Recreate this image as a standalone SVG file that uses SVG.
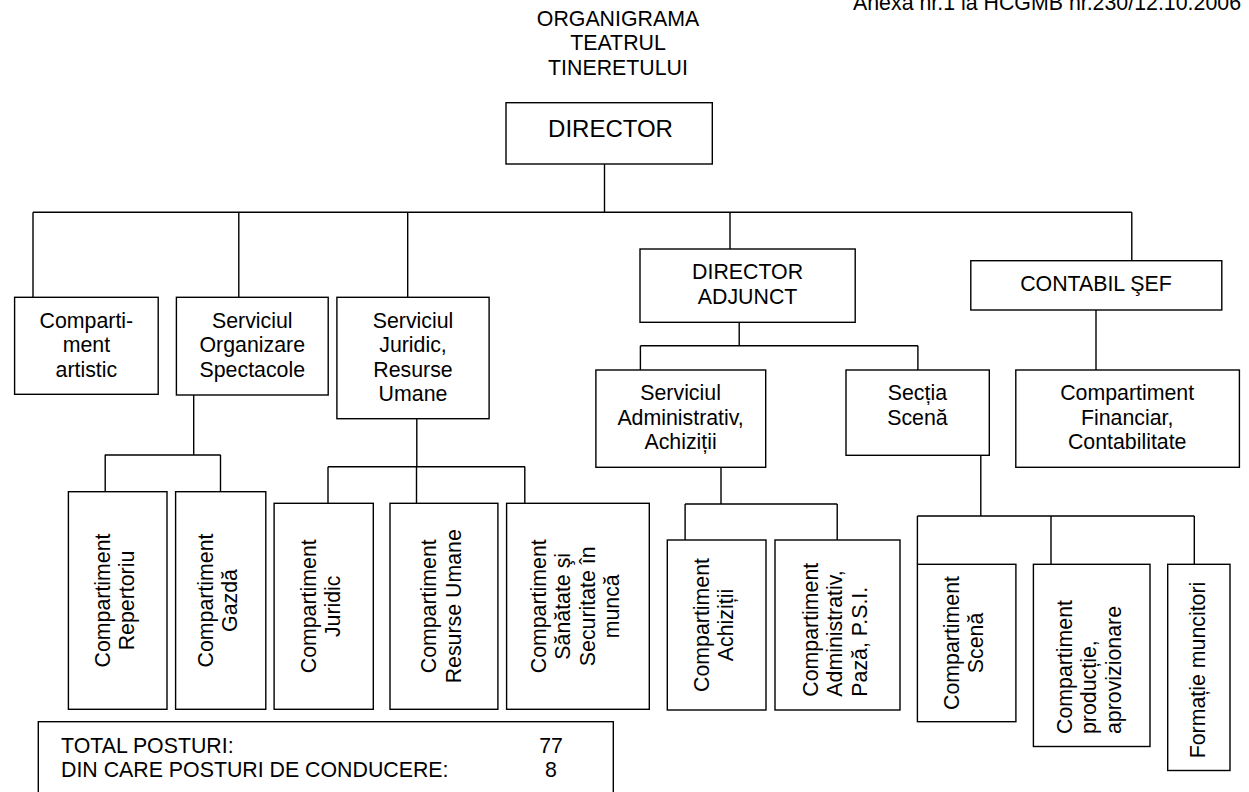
<svg xmlns="http://www.w3.org/2000/svg" width="1249" height="792" viewBox="0 0 1249 792">
<style>
text{font-family:"Liberation Sans",Arial,sans-serif;font-size:21.33px;fill:#000}
.c{text-anchor:middle}
.s{text-anchor:start}
.box{fill:#fff;stroke:#000;stroke-width:1.4}
.ln{fill:none;stroke:#000;stroke-width:1.4}
.big{font-size:24px}
</style>
<rect width="1249" height="792" fill="#fff"/>
<text x="853" y="10" textLength="388" lengthAdjust="spacing">Anexa nr.1 la HCGMB nr.230/12.10.2006</text>
<g id="title">
<text class="c" x="618" y="25.5">ORGANIGRAMA</text>
<text class="c" x="618" y="50">TEATRUL</text>
<text class="c" x="618" y="74.5">TINERETULUI</text>
</g>
<g id="connectors" class="ln">
<path d="M604.5 164V212.3M33 212.3H1131.8M33 212.3V297.3M238.8 212.3V297.3M407.7 212.3V297.3M730 212.3V249M1131.8 212.3V260.7"/>
<path d="M193.7 395V455M104.8 455H220.6M105.2 455V491.7M220.5 455V491.7"/>
<path d="M416.8 418.7V466.7M328 466.7H525M328 466.7V503.3M416.5 466.7V503.3M524.8 466.7V503.3"/>
<path d="M739.2 322.3V345.7M640.4 345.7H917.9M640.4 345.7V370M917.9 345.7V370"/>
<path d="M1096 310V370"/>
<path d="M721 467.3V504M685.1 504H837.2M685.1 504V540M837.2 504V540"/>
<path d="M980.8 455.3V516M917.4 516H1194.3M917.4 516V564.3M1051 516V564.3M1194.3 516V564.3"/>
</g>
<g id="director"><rect class="box" x="506" y="102.7" width="206.3" height="61.3"/><text class="c big" x="610.5" y="137.3">DIRECTOR</text></g>
<g id="comp_artistic"><rect class="box" x="14.6" y="297.3" width="143.6" height="97"/><text class="c" x="86.4" y="327.7">Comparti-<tspan x="86.4" dy="24.5">ment</tspan><tspan x="86.4" dy="24.5">artistic</tspan></text></g>
<g id="serv_org"><rect class="box" x="176.4" y="297.3" width="151.8" height="97.7"/><text class="c" x="252.3" y="327.7">Serviciul<tspan x="252.3" dy="24.5">Organizare</tspan><tspan x="252.3" dy="24.5">Spectacole</tspan></text></g>
<g id="serv_jur"><rect class="box" x="336.9" y="297.3" width="152.2" height="121.4"/><text class="c" x="413" y="327.7">Serviciul<tspan x="413" dy="24.5">Juridic,</tspan><tspan x="413" dy="24.5">Resurse</tspan><tspan x="413" dy="24.5">Umane</tspan></text></g>
<g id="dir_adj"><rect class="box" x="640" y="249" width="215.2" height="73.3"/><text class="c" x="747.6" y="279.3">DIRECTOR<tspan x="747.6" dy="24.7">ADJUNCT</tspan></text></g>
<g id="contabil"><rect class="box" x="970.8" y="260.7" width="251" height="49.3"/><text class="c" x="1096" y="291">CONTABIL ŞEF</text></g>
<g id="serv_admin"><rect class="box" x="595.9" y="370" width="169.8" height="97.3"/><text class="c" x="680.6" y="400">Serviciul<tspan x="680.6" dy="24.5">Administrativ,</tspan><tspan x="680.6" dy="24.5">Achiziții</tspan></text></g>
<g id="sectia"><rect class="box" x="846" y="370" width="143.3" height="85.3"/><text class="c" x="917.4" y="400">Secția<tspan x="917.4" dy="24.5">Scenă</tspan></text></g>
<g id="financiar"><rect class="box" x="1015.8" y="370" width="223.6" height="97.3"/><text class="c" x="1127.2" y="400">Compartiment<tspan x="1127.2" dy="24.5">Financiar,</tspan><tspan x="1127.2" dy="24.5">Contabilitate</tspan></text></g>
<g id="repertoriu"><rect class="box" x="68.4" y="491.7" width="98.6" height="217.6"/><text class="c" transform="translate(117.7 600.5) rotate(-90)"><tspan x="0" y="-7.75">Compartiment</tspan><tspan x="0" y="16.75">Repertoriu</tspan></text></g>
<g id="gazda"><rect class="box" x="175.6" y="491.7" width="90.2" height="217.6"/><text class="c" transform="translate(220.7 600.5) rotate(-90)"><tspan x="0" y="-7.75">Compartiment</tspan><tspan x="0" y="16.75">Gazdă</tspan></text></g>
<g id="juridic"><rect class="box" x="274.1" y="503.3" width="99.2" height="206"/><text class="c" transform="translate(323.7 606.3) rotate(-90)"><tspan x="0" y="-7.75">Compartiment</tspan><tspan x="0" y="16.75">Juridic</tspan></text></g>
<g id="resurse"><rect class="box" x="390" y="503.3" width="107.9" height="206"/><text class="c" transform="translate(444 606.3) rotate(-90)"><tspan x="0" y="-7.75">Compartiment</tspan><tspan x="0" y="16.75">Resurse Umane</tspan></text></g>
<g id="sanatate"><rect class="box" x="506.6" y="503.3" width="142.7" height="206"/><text class="c" transform="translate(578 606.3) rotate(-90)"><tspan x="0" y="-32.25">Compartiment</tspan><tspan x="0" y="-7.75">Sănătate şi</tspan><tspan x="0" y="16.75">Securitate în</tspan><tspan x="0" y="41.25">muncă</tspan></text></g>
<g id="achizitii"><rect class="box" x="667.3" y="540" width="98.7" height="170"/><text class="c" transform="translate(716.7 625) rotate(-90)"><tspan x="0" y="-7.75">Compartiment</tspan><tspan x="0" y="16.75">Achiziții</tspan></text></g>
<g id="administrativ"><rect class="box" x="775" y="540" width="125" height="170"/><text class="s" transform="translate(837.5 696.7) rotate(-90)"><tspan x="0" y="-20">Compartiment</tspan><tspan x="0" y="4.5">Administrativ,</tspan><tspan x="0" y="29">Pază, P.S.I.</tspan></text></g>
<g id="comp_scena"><rect class="box" x="917.4" y="564.3" width="98.5" height="157.4"/><text class="c" transform="translate(966.7 643) rotate(-90)"><tspan x="0" y="-7.75">Compartiment</tspan><tspan x="0" y="16.75">Scenă</tspan></text></g>
<g id="productie"><rect class="box" x="1033.4" y="564.3" width="116.6" height="182.2"/><text class="s" transform="translate(1091.7 734) rotate(-90)"><tspan x="0" y="-20">Compartiment</tspan><tspan x="0" y="4.5">producție,</tspan><tspan x="0" y="29">aprovizionare</tspan></text></g>
<g id="formatie"><rect class="box" x="1167.7" y="564.3" width="62.3" height="206.2"/><text class="s" transform="translate(1198.8 758.3) rotate(-90)"><tspan x="0" y="6">Formație muncitori</tspan></text></g>
<g id="total"><rect class="box" x="38.3" y="721.7" width="575" height="90"/><text class="s" x="61" y="752.7">TOTAL POSTURI:<tspan x="61" dy="24.5">DIN CARE POSTURI DE CONDUCERE:</tspan></text><text class="c" x="551" y="752.7">77<tspan x="551" dy="24.5">8</tspan></text></g>
</svg>
